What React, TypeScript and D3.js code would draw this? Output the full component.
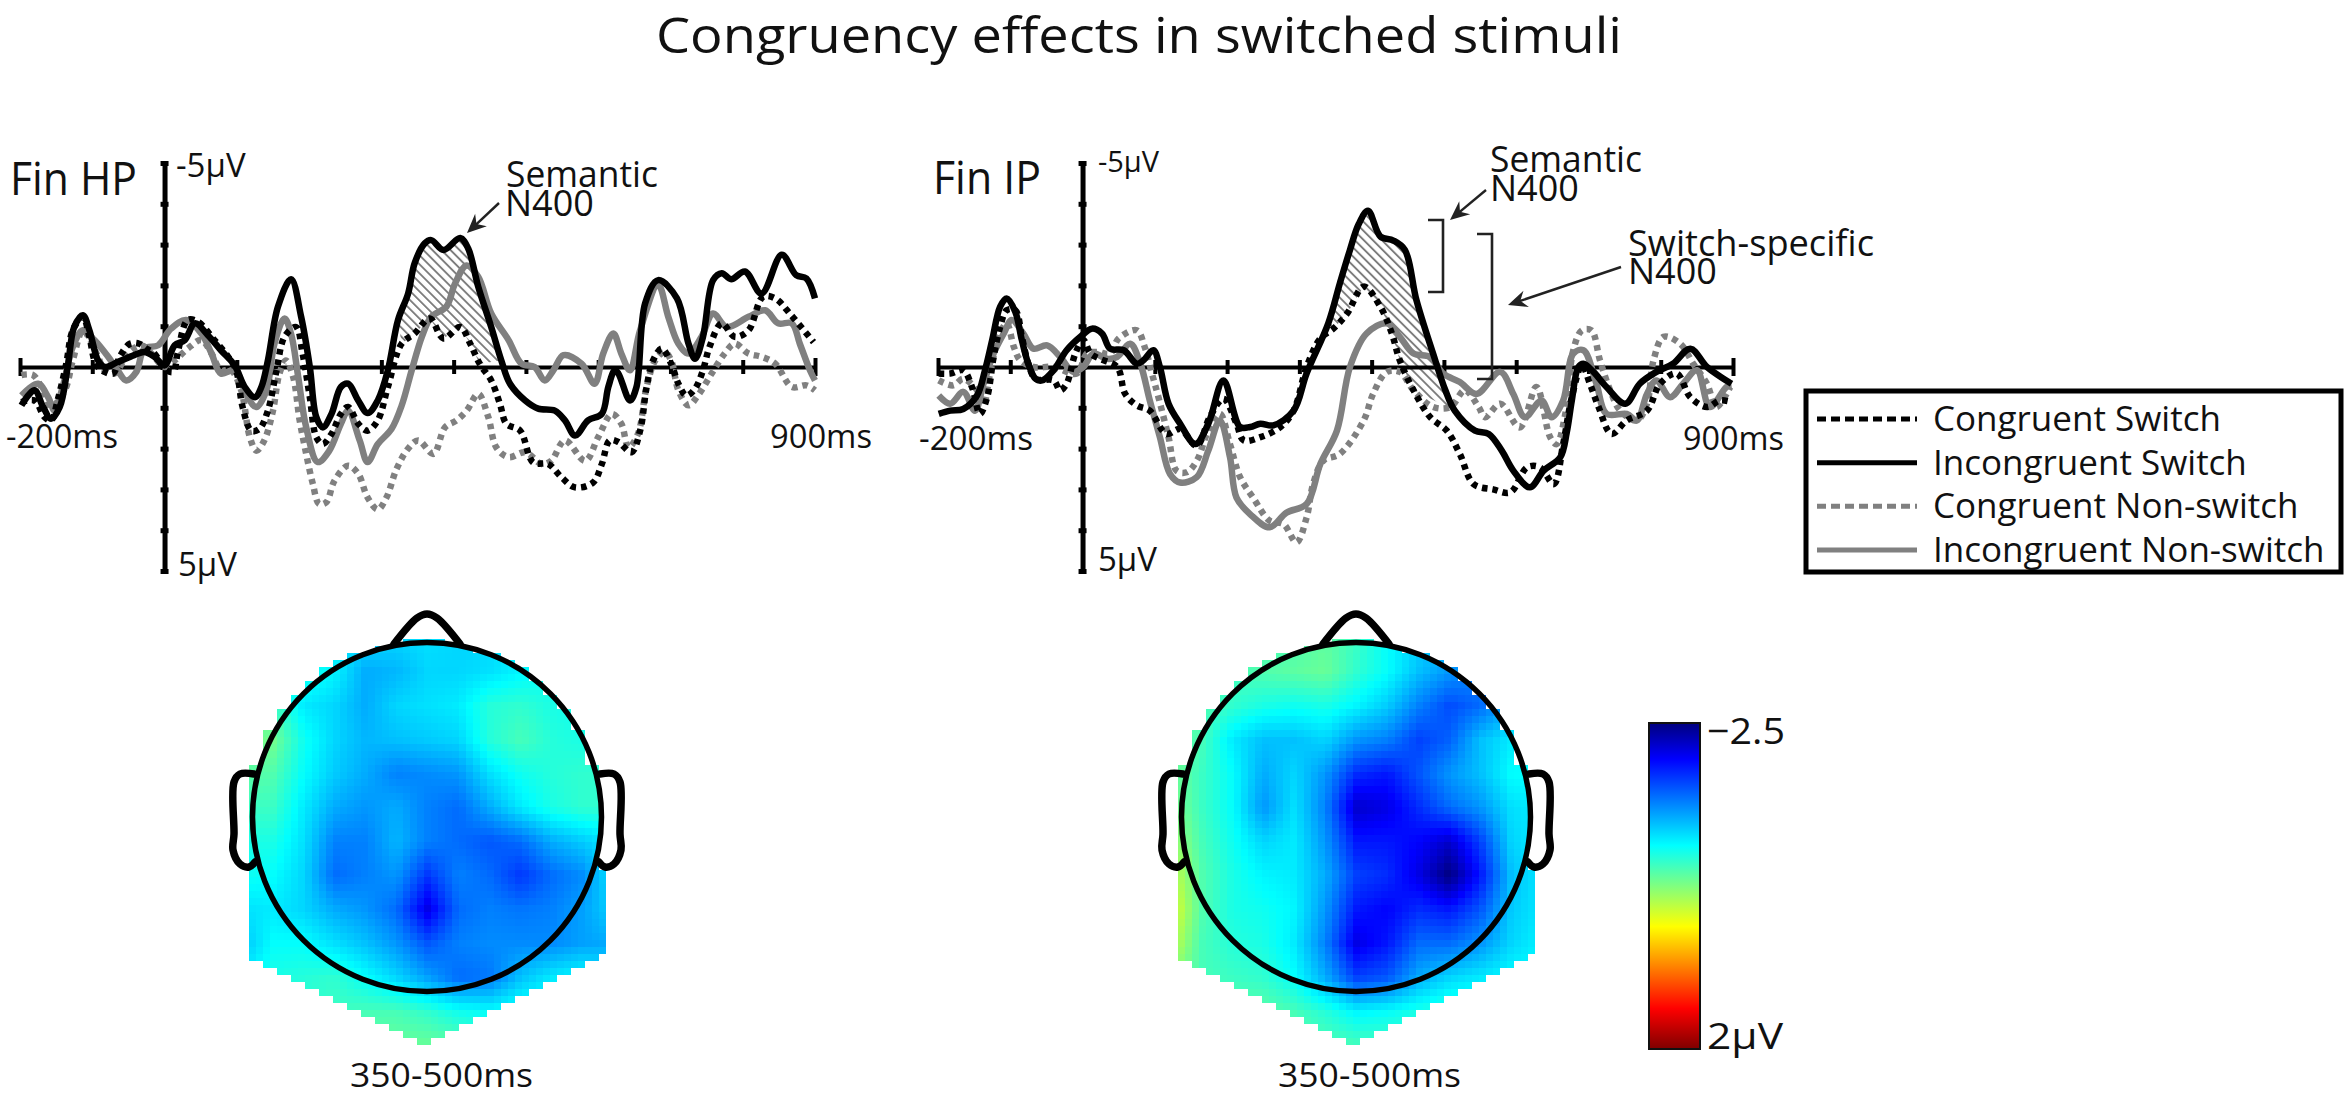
import { useEffect, useRef } from "react"
import * as d3 from "d3"

type Pt = [number, number]

const FONT = "'Open Sans', sans-serif"

// all curves are [ms, µV], negative up
const hpCongruentSwitch: Pt[] = [[-198,0.86],[-180,0.82],[-166,1.23],[-157,1.31],[-148,0.82],[-136,-0.08],[-127,-0.9],[-113,-1.23],[-104,-0.74],[-95,-0.08],[-83,0.12],[-71,0.16],[-62,-0.25],[-48,-0.57],[-35,-0.57],[-25,-0.45],[-14,-0.33],[0,0.04],[12,0.12],[18,-0.33],[32,-1.15],[46,-1.11],[69,-0.66],[88,-0.25],[99,0.08],[108,0.98],[120,1.56],[131,1.52],[143,1.07],[155,0.08],[166,-0.74],[182,-0.98],[191,-0.33],[201,0.74],[210,1.72],[219,1.89],[231,1.64],[244,1.15],[254,0.98],[268,1.39],[281,1.56],[295,1.31],[309,0.49],[328,-0.57],[346,-0.82],[367,-1.19],[386,-0.7],[409,-0.98],[423,-0.57],[436,-0.08],[452,0.33],[464,0.9],[473,1.39],[492,1.56],[510,2.34],[531,2.38],[549,2.7],[568,2.95],[593,2.83],[605,2.38],[616,1.8],[628,1.84],[646,2.09],[658,1.56],[667,0.49],[676,-0.16],[688,-0.45],[701,-0.08],[711,0.41],[722,0.7],[734,0.53],[745,0.08],[754,-0.49],[771,-1.07],[789,-0.74],[808,-0.9],[828,-1.72],[845,-1.68],[867,-1.27],[898,-0.61]]
const hpIncongruentSwitch: Pt[] = [[-198,0.94],[-180,0.57],[-168,0.98],[-157,1.27],[-145,0.98],[-134,0],[-125,-0.98],[-113,-1.27],[-104,-0.9],[-92,-0.16],[-83,0],[-65,-0.12],[-42,-0.29],[-28,-0.37],[-14,-0.25],[0,-0.04],[14,-0.53],[28,-0.66],[42,-1.07],[60,-0.78],[78,-0.41],[97,-0.04],[111,0.49],[125,0.74],[134,0.49],[143,-0.16],[157,-1.48],[175,-2.15],[189,-1.23],[201,0],[210,1.23],[219,1.48],[231,1.15],[244,0.49],[254,0.41],[268,0.82],[281,1.13],[295,0.82],[309,0.08],[323,-1.15],[337,-1.8],[346,-2.54],[360,-3.03],[369,-3.11],[386,-2.87],[409,-3.16],[420,-2.91],[434,-1.97],[452,-0.98],[466,-0.16],[478,0.41],[499,0.82],[517,1.02],[540,1.07],[554,1.31],[568,1.68],[586,1.31],[605,1.15],[614,0.49],[623,0.08],[628,0.16],[644,0.82],[653,0.49],[665,-1.56],[683,-2.13],[709,-1.68],[725,-0.57],[734,-0.2],[745,-0.74],[759,-2.13],[771,-2.3],[784,-2.15],[803,-2.34],[826,-1.8],[854,-2.75],[874,-2.25],[888,-2.17],[900,-1.68]]
const hpCongruentNonSwitch: Pt[] = [[-198,0.2],[-182,0.2],[-166,0.66],[-157,0.98],[-138,0.57],[-127,-0.16],[-113,-0.9],[-104,-0.7],[-92,-0.25],[-83,0.08],[-69,0.16],[-51,-0.33],[-32,-0.53],[-18,-0.33],[0,0],[14,-0.16],[32,-0.45],[51,-0.66],[65,-0.33],[78,0.08],[92,0.08],[106,0.57],[118,1.72],[127,2.05],[138,1.8],[150,1.07],[159,0.16],[168,-0.16],[178,0.25],[187,1.31],[196,2.13],[205,2.85],[214,3.36],[224,3.31],[235,2.79],[254,2.42],[268,2.62],[281,3.2],[295,3.49],[307,3.2],[321,2.5],[337,2.0],[351,1.8],[372,2.13],[388,1.48],[404,1.31],[418,1.07],[434,0.66],[448,1.23],[459,1.97],[476,2.21],[499,2.09],[522,2.38],[535,2.3],[554,1.8],[582,2.3],[600,1.72],[619,1.15],[632,1.39],[642,1.97],[655,1.64],[667,0.49],[679,-0.16],[692,-0.37],[701,-0.16],[711,0.57],[725,0.94],[738,0.7],[757,0.16],[775,-0.33],[789,-0.57],[808,-0.33],[826,-0.25],[845,-0.08],[868,0.49],[888,0.45],[900,0.57]]
const hpIncongruentNonSwitch: Pt[] = [[-198,0.7],[-175,0.41],[-161,0.74],[-152,1.07],[-141,0.49],[-127,-0.49],[-113,-0.9],[-97,-0.66],[-78,-0.25],[-65,0.08],[-53,0.33],[-39,0.12],[-28,-0.45],[-9,-0.53],[9,-0.94],[30,-1.15],[51,-0.82],[65,-0.33],[78,0.16],[97,0.08],[115,0.74],[127,0.98],[141,0.57],[152,-0.57],[166,-1.19],[175,-0.82],[185,0.25],[196,1.48],[212,2.33],[228,2.05],[244,1.39],[254,1.07],[270,1.8],[281,2.33],[295,1.89],[314,1.52],[328,0.95],[342,0.08],[356,-0.74],[369,-1.23],[390,-1.48],[402,-2.05],[418,-2.49],[434,-2.21],[452,-1.31],[476,-0.66],[494,-0.08],[512,0],[526,0.33],[538,0.08],[552,-0.29],[577,-0.08],[595,0.41],[607,-0.33],[621,-0.82],[632,-0.33],[644,0.08],[658,-0.9],[683,-2.01],[697,-1.23],[711,-0.57],[725,-0.33],[743,-0.74],[759,-1.31],[778,-0.98],[808,-1.23],[831,-1.39],[849,-1.07],[868,-1.07],[879,-0.57],[893,0.08],[900,0.33]]

const ipCongruentSwitch: Pt[] = [[-199,0.16],[-183,0.16],[-165,0.08],[-153,0.49],[-142,1.15],[-132,0.74],[-123,-0.25],[-114,-0.98],[-105,-1.39],[-93,-1.39],[-84,-0.74],[-75,-0.08],[-65,0.29],[-40,0.33],[-31,0.57],[-22,0.41],[-10,-0.33],[1,-0.66],[11,-0.33],[24,-0.2],[48,0],[59,0.66],[75,0.94],[93,1.07],[116,1.64],[135,1.52],[158,1.93],[176,1.23],[195,0.78],[213,1.39],[223,1.8],[246,1.72],[273,1.48],[292,1.07],[310,0],[329,-0.7],[347,-0.94],[366,-1.31],[389,-1.97],[412,-1.48],[428,-0.82],[439,-0.16],[458,0.57],[481,1.23],[504,1.56],[522,2.13],[541,2.87],[568,3.0],[592,3.07],[615,2.46],[633,2.46],[652,2.87],[665,1.89],[677,0.74],[691,-0.04],[702,0.41],[714,0.98],[732,1.64],[753,1.31],[781,1.07],[799,0.41],[822,0.16],[841,0.74],[864,0.98],[882,0.82],[898,0.86]]
const ipIncongruentSwitch: Pt[] = [[-199,1.15],[-183,1.07],[-165,1.03],[-146,0.7],[-135,0.08],[-125,-0.66],[-114,-1.48],[-105,-1.68],[-93,-1.35],[-84,-0.66],[-75,-0.08],[-65,0.29],[-56,0.33],[-40,0.08],[-22,-0.41],[-3,-0.74],[13,-0.94],[27,-0.82],[38,-0.45],[57,-0.41],[75,-0.08],[84,-0.16],[98,-0.41],[107,0],[119,0.9],[135,1.39],[156,1.89],[174,1.39],[195,0.33],[218,1.47],[232,1.47],[246,1.39],[264,1.43],[292,1.07],[310,0.16],[340,-1.07],[356,-2.05],[370,-2.87],[382,-3.5],[395,-3.83],[412,-3.2],[430,-3.1],[446,-2.87],[462,-1.64],[485,-0.33],[502,0.57],[515,1.07],[543,1.56],[562,1.64],[580,2.05],[596,2.54],[619,2.95],[638,2.54],[661,2.21],[670,1.6],[677,0.82],[686,0],[693,-0.08],[707,0.12],[725,0.49],[751,0.9],[771,0.41],[794,0.12],[817,-0.08],[841,-0.45],[864,0],[898,0.41]]
const ipCongruentNonSwitch: Pt[] = [[-199,0.33],[-179,0.45],[-165,0.29],[-146,0.57],[-137,0.9],[-128,0.16],[-116,-0.74],[-105,-1.07],[-95,-0.49],[-86,-0.16],[-68,0],[-40,0],[-8,0.16],[6,-0.33],[20,-0.37],[38,-0.33],[50,-0.7],[75,-0.9],[86,-0.49],[96,0.16],[105,0.74],[119,1.72],[130,2.54],[144,2.58],[158,2.3],[174,1.56],[190,1.15],[204,1.89],[218,2.7],[236,3.2],[259,3.77],[278,3.85],[296,4.3],[310,3.69],[319,2.87],[333,2.3],[356,2.13],[389,1.31],[402,0.66],[421,0.12],[439,0.12],[458,0.57],[485,0.98],[509,0.98],[529,0.57],[548,0.98],[557,1.23],[578,0.9],[605,1.48],[628,0.49],[647,1.72],[656,1.89],[668,1.15],[679,-0.41],[691,-0.9],[704,-0.9],[716,-0.16],[730,0.57],[744,1.07],[767,1.31],[781,0.9],[790,-0.16],[804,-0.74],[827,-0.57],[845,-0.08],[864,0.41],[877,0.98],[896,0.49]]
const ipIncongruentNonSwitch: Pt[] = [[-199,0.7],[-183,0.9],[-165,0.61],[-149,1.07],[-137,0.41],[-123,-0.33],[-109,-0.82],[-98,-1.15],[-82,-0.82],[-68,-0.45],[-49,-0.53],[-31,-0.25],[-13,0.12],[1,0],[15,-0.33],[34,-0.2],[48,-0.25],[66,-0.57],[80,-0.08],[93,0.82],[107,1.72],[121,2.62],[135,2.83],[158,2.7],[174,2.05],[190,1.31],[204,2.21],[213,3.2],[232,3.61],[259,3.93],[282,3.57],[310,3.36],[329,2.38],[352,1.56],[370,0],[393,-0.82],[421,-1.07],[439,-0.74],[458,-0.33],[481,-0.25],[499,0.16],[522,0.37],[545,0.66],[578,0.12],[596,0.66],[612,1.23],[635,0.82],[649,1.23],[665,0.82],[679,-0.33],[693,-0.41],[711,0.41],[725,1.15],[753,1.15],[767,1.31],[781,0.66],[794,0.33],[813,0.74],[831,0.41],[850,0.08],[868,0.98],[891,0.49],[898,0.45]]

const legendLabels = ["Congruent Switch", "Incongruent Switch", "Congruent Non-switch", "Incongruent Non-switch"]
const xTicks = [-200, -100, 0, 100, 200, 300, 400, 500, 600, 700, 800, 900]
const yTicks = [-5, -4, -3, -2, -1, 0, 1, 2, 3, 4, 5]

// µV, rows run front to back, columns left to right
const hpScalp = [
  [-0.9,-0.9,-0.9,-0.9,-0.95,-1.0,-0.95,-1.0,-1.0,-0.9,-0.8,-0.8,-0.8],
  [-0.7,-0.7,-0.7,-0.85,-1.2,-1.15,-1.0,-1.0,-0.95,-0.85,-0.75,-0.7,-0.7],
  [-0.5,-0.5,-0.9,-1.0,-1.2,-1.0,-0.95,-0.9,-0.65,-0.6,-0.7,-0.75,-0.75],
  [-0.3,-0.3,-0.75,-1.0,-1.15,-1.1,-1.05,-1.0,-0.65,-0.5,-0.65,-0.7,-0.7],
  [-0.4,-0.45,-0.8,-1.05,-1.2,-1.4,-1.35,-1.3,-0.95,-0.75,-0.65,-0.6,-0.6],
  [-0.55,-0.55,-0.9,-1.2,-1.3,-1.2,-1.4,-1.5,-1.2,-0.9,-0.7,-0.6,-0.6],
  [-0.7,-0.7,-0.95,-1.4,-1.4,-1.15,-1.4,-1.5,-1.6,-1.5,-1.2,-1.05,-0.9],
  [-0.75,-0.8,-1.0,-1.5,-1.4,-1.3,-1.75,-1.4,-1.5,-1.75,-1.5,-1.35,-0.9],
  [-0.95,-0.9,-1.0,-1.2,-1.3,-1.5,-2.1,-1.5,-1.4,-1.45,-1.4,-1.25,-1.0],
  [-1.1,-0.8,-0.8,-0.95,-1.1,-1.3,-1.6,-1.4,-1.35,-1.35,-1.35,-1.25,-1.2],
  [-0.9,-0.7,-0.65,-0.6,-0.8,-1.0,-1.25,-1.5,-1.45,-1.1,-0.9,-0.8,-0.9],
  [-0.7,-0.7,-0.6,-0.55,-0.5,-0.5,-0.6,-0.75,-0.8,-0.7,-0.7,-0.7,-0.7],
  [-0.5,-0.5,-0.5,-0.4,-0.35,-0.35,-0.35,-0.4,-0.5,-0.5,-0.5,-0.5,-0.5],
]
const ipScalp = [
  [-0.5,-0.5,-0.5,-0.5,-0.5,-0.4,-0.55,-0.8,-1.0,-1.1,-1.2,-1.2,-1.2],
  [-0.4,-0.4,-0.5,-0.45,-0.4,-0.35,-0.6,-0.8,-1.1,-1.3,-1.4,-1.3,-1.2],
  [-0.4,-0.45,-0.6,-0.7,-0.75,-0.7,-0.85,-1.05,-1.4,-1.65,-1.5,-1.2,-1.1],
  [-0.3,-0.5,-0.9,-1.1,-1.1,-1.0,-1.3,-1.4,-1.7,-1.55,-1.1,-0.9,-0.9],
  [-0.3,-0.55,-0.8,-1.2,-1.0,-1.3,-1.8,-1.9,-1.6,-1.3,-1.1,-0.8,-0.8],
  [-0.2,-0.55,-0.8,-1.3,-0.95,-1.4,-2.2,-2.1,-1.8,-1.5,-1.3,-0.95,-0.9],
  [-0.05,-0.5,-0.75,-1.0,-0.9,-1.3,-1.9,-1.9,-2.0,-2.2,-1.7,-1.0,-0.9],
  [0.1,-0.45,-0.7,-0.85,-0.9,-1.2,-1.7,-1.8,-2.1,-2.5,-1.9,-1.1,-0.9],
  [0.25,-0.45,-0.7,-0.75,-0.85,-1.3,-1.9,-2.0,-1.8,-1.9,-1.6,-1.05,-0.9],
  [0.1,-0.5,-0.65,-0.7,-0.9,-1.4,-2.1,-1.9,-1.5,-1.5,-1.3,-1.0,-0.85],
  [-0.2,-0.5,-0.55,-0.6,-0.8,-1.2,-1.7,-1.6,-1.2,-1.0,-0.9,-0.8,-0.8],
  [-0.4,-0.4,-0.4,-0.4,-0.5,-0.65,-0.85,-0.8,-0.7,-0.6,-0.6,-0.6,-0.6],
  [-0.4,-0.4,-0.4,-0.4,-0.4,-0.45,-0.5,-0.5,-0.5,-0.5,-0.5,-0.5,-0.5],
]

// jet, flipped: dark blue is -2.5, dark red is 2
const colorDomain = [-2.5, -2.0, -0.81, 0.31, 1.44, 2]
const colorRange = ["#00007f", "#0000ff", "#00ffff", "#ffff00", "#ff0000", "#7f0000"]

const seriesStyles = [
  { color: "#000", dash: "5.5 5" },
  { color: "#000", dash: null },
  { color: "#808080", dash: "5.5 5" },
  { color: "#808080", dash: null },
]

export default function App() {
  const svgRef = useRef<SVGSVGElement>(null)

  useEffect(() => {
    if (!svgRef.current) return
    const svg = d3.select(svgRef.current)
    svg.selectAll("*").remove()

    const defs = svg.append("defs")
    const hatch = defs
      .append("pattern")
      .attr("id", "hatch")
      .attr("patternUnits", "userSpaceOnUse")
      .attr("width", 6.4)
      .attr("height", 6.4)
      .attr("patternTransform", "rotate(-45)")
    hatch.append("rect").attr("width", 1.9).attr("height", 6.4).attr("fill", "#7d7d7d")

    const label = (x: number, y: number, str: string, size: number, width?: number, anchor = "start") => {
      const t = svg
        .append("text")
        .attr("x", x)
        .attr("y", y)
        .attr("font-family", FONT)
        .attr("font-size", size)
        .attr("text-anchor", anchor)
        .attr("fill", "#111")
        .text(str)
      if (width) t.attr("textLength", width).attr("lengthAdjust", "spacingAndGlyphs")
      return t
    }

    const arrow = (x1: number, y1: number, x2: number, y2: number) => {
      const a = Math.atan2(y2 - y1, x2 - x1)
      svg
        .append("line")
        .attr("x1", x1)
        .attr("y1", y1)
        .attr("x2", x2 - 8 * Math.cos(a))
        .attr("y2", y2 - 8 * Math.sin(a))
        .attr("stroke", "#222")
        .attr("stroke-width", 2.4)
      const head: Pt[] = [
        [x2, y2],
        [x2 - 21 * Math.cos(a - 0.42), y2 - 21 * Math.sin(a - 0.42)],
        [x2 - 13 * Math.cos(a), y2 - 13 * Math.sin(a)],
        [x2 - 21 * Math.cos(a + 0.42), y2 - 21 * Math.sin(a + 0.42)],
      ]
      svg.append("polygon").attr("points", head.join(" ")).attr("fill", "#222")
    }

    // ERP panel
    const drawErp = (
      left: number,
      curves: Pt[][],
      hatchPoly: Pt[],
    ) => {
      const x = d3.scaleLinear().domain([-200, 900]).range([left, left + 795])
      const y = d3.scaleLinear().domain([-5, 5]).range([163, 571])
      const g = svg.append("g")

      const line = d3
        .line<Pt>()
        .x((d) => x(d[0]))
        .y((d) => y(d[1]))
      g.append("path").attr("d", line(hatchPoly)).attr("fill", "url(#hatch)")

      const xAxis = g
        .append("g")
        .attr("transform", `translate(0,${y(0)})`)
        .call(d3.axisBottom(x).tickValues(xTicks).tickSizeOuter(0).tickFormat(() => ""))
      xAxis.select(".domain").attr("stroke", "#000").attr("stroke-width", 4)
      xAxis
        .selectAll<SVGLineElement, number>(".tick line")
        .attr("y1", (d) => (d === -200 || d === 900 ? -9 : -7))
        .attr("y2", (d) => (d === -200 || d === 900 ? 9 : 7))
        .attr("stroke", "#000")
        .attr("stroke-width", 4)

      const yAxis = g
        .append("g")
        .attr("transform", `translate(${x(0)},0)`)
        .call(d3.axisLeft(y).tickValues(yTicks).tickSizeOuter(0).tickFormat(() => ""))
      yAxis.select(".domain").attr("stroke", "#000").attr("stroke-width", 5)
      yAxis
        .selectAll(".tick line")
        .attr("x1", -4)
        .attr("x2", 4)
        .attr("stroke", "#000")
        .attr("stroke-width", 5)

      const smooth = d3
        .line<Pt>()
        .x((d) => x(d[0]))
        .y((d) => y(d[1]))
        .curve(d3.curveCatmullRom.alpha(0.5))

      // grey first, black on top
      ;[3, 2, 0, 1].forEach((i) => {
        g.append("path")
          .attr("d", smooth(curves[i]))
          .attr("fill", "none")
          .attr("stroke", seriesStyles[i].color)
          .attr("stroke-width", 6.5)
          .attr("stroke-linejoin", "round")
          .attr("stroke-dasharray", seriesStyles[i].dash)
      })
    }

    const hpHatch: Pt[] = [
      ...hpIncongruentSwitch.filter((d) => d[0] >= 323 && d[0] <= 466),
      ...hpCongruentSwitch.filter((d) => d[0] >= 328 && d[0] <= 436).reverse(),
    ]
    const ipHatch: Pt[] = [
      ...ipIncongruentSwitch.filter((d) => d[0] >= 340 && d[0] <= 515),
      ...ipCongruentSwitch.filter((d) => d[0] >= 347 && d[0] <= 458).reverse(),
    ]
    drawErp(20, [hpCongruentSwitch, hpIncongruentSwitch, hpCongruentNonSwitch, hpIncongruentNonSwitch], hpHatch)
    drawErp(938, [ipCongruentSwitch, ipIncongruentSwitch, ipCongruentNonSwitch, ipIncongruentNonSwitch], ipHatch)

    // scalp maps
    const color = d3.scaleLinear<string>().domain(colorDomain).range(colorRange).clamp(true)

    const drawScalp = (cx: number, cy: number, grid: number[][]) => {
      const cols = d3.scaleLinear().domain([-186, 186]).range([0, 12])
      const rows = d3.scaleLinear().domain([-180, 228]).range([0, 12])
      const sample = (dx: number, dy: number) => {
        const c = Math.max(0, Math.min(11.999, cols(dx)))
        const r = Math.max(0, Math.min(11.999, rows(dy)))
        const c0 = Math.floor(c)
        const r0 = Math.floor(r)
        const top = d3.interpolateNumber(grid[r0][c0], grid[r0][c0 + 1])(c - c0)
        const bot = d3.interpolateNumber(grid[r0 + 1][c0], grid[r0 + 1][c0 + 1])(c - c0)
        return d3.interpolateNumber(top, bot)(r - r0)
      }
      // the outline of the map is stepped 14 wide, 7 high
      const inside = (dx: number, dy: number) => {
        const qx = Math.round(dx / 14) * 14
        if (Math.abs(dx) > 180) return false
        if (dy >= 50) return dy <= 225 - (90 * Math.abs(qx)) / 183
        return Math.hypot(qx, dy) <= 177
      }
      const cw = 7
      const ch = 7
      const g = svg.append("g").attr("transform", `translate(${cx},${cy})`)
      const cells: Pt[] = []
      d3.range(-28, 29).forEach((i) => {
        d3.range(-27, 33).forEach((j) => {
          const p: Pt = [i * cw, j * ch]
          if (inside(p[0], p[1])) cells.push(p)
        })
      })
      g.selectAll("rect")
        .data(cells)
        .enter()
        .append("rect")
        .attr("x", (d) => d[0] - cw / 2)
        .attr("y", (d) => d[1] - ch / 2)
        .attr("width", cw + 0.5)
        .attr("height", ch + 0.5)
        .attr("shape-rendering", "crispEdges")
        .attr("fill", (d) => color(sample(d[0], d[1])))

      const outline = d3.line<Pt>().curve(d3.curveCatmullRom.alpha(0.5))
      const nose: Pt[] = [[-33, -173], [-10, -199], [0, -203], [10, -199], [33, -173]]
      const earL: Pt[] = [[-173, -43], [-187, -43], [-193, -35], [-193, 17], [-194, 33], [-187, 47], [-178, 50], [-172, 45]]
      const earR: Pt[] = earL.map((d) => [-d[0], d[1]] as Pt)
      ;[nose, earL, earR].forEach((p) => {
        g.append("path")
          .attr("d", outline(p))
          .attr("fill", "none")
          .attr("stroke", "#000")
          .attr("stroke-width", 7.5)
          .attr("stroke-linecap", "round")
      })
      g.append("circle").attr("r", 174.5).attr("fill", "none").attr("stroke", "#000").attr("stroke-width", 5.5)
    }
    drawScalp(427, 817, hpScalp)
    drawScalp(1356, 817, ipScalp)

    // colorbar
    const barY = d3.scaleLinear().domain([-2.5, 2]).range([723, 1049])
    const grad = defs
      .append("linearGradient")
      .attr("id", "jet")
      .attr("x1", 0)
      .attr("y1", 0)
      .attr("x2", 0)
      .attr("y2", 1)
    colorDomain.forEach((v, i) => {
      grad
        .append("stop")
        .attr("offset", (barY(v) - 723) / 326)
        .attr("stop-color", colorRange[i])
    })
    svg
      .append("rect")
      .attr("x", 1649)
      .attr("y", barY(-2.5))
      .attr("width", 51)
      .attr("height", barY(2) - barY(-2.5))
      .attr("fill", "url(#jet)")
      .attr("stroke", "#111")
      .attr("stroke-width", 2)

    // legend box
    svg
      .append("rect")
      .attr("x", 1806)
      .attr("y", 391)
      .attr("width", 535)
      .attr("height", 181)
      .attr("fill", "#fff")
      .attr("stroke", "#000")
      .attr("stroke-width", 5)
    const rowY = d3.scaleLinear().domain([0, 3]).range([419, 550])
    legendLabels.forEach((name, i) => {
      svg
        .append("line")
        .attr("x1", 1817)
        .attr("x2", 1917)
        .attr("y1", rowY(i))
        .attr("y2", rowY(i))
        .attr("stroke", seriesStyles[i].color)
        .attr("stroke-width", 5)
        .attr("stroke-dasharray", seriesStyles[i].dash ? "9 5" : null)
      label(1933, rowY(i) + 12, name, 35)
    })

    // text
    label(1139, 53, "Congruency effects in switched stimuli", 49, 966, "middle")
    label(10, 195, "Fin HP", 45, 127)
    label(176, 177, "-5µV", 33)
    label(178, 576, "5µV", 33)
    label(6, 448, "-200ms", 33, 112)
    label(770, 448, "900ms", 33, 102)
    label(506, 187, "Semantic", 36, 152)
    label(505, 216, "N400", 36)
    label(933, 194, "Fin IP", 45, 108)
    label(1098, 172, "-5µV", 30, 61)
    label(1098, 571, "5µV", 33)
    label(919, 450, "-200ms", 33, 114)
    label(1683, 450, "900ms", 33, 101)
    label(1490, 172, "Semantic", 36, 152)
    label(1490, 201, "N400", 36)
    label(1628, 256, "Switch-specific", 36, 246)
    label(1628, 284, "N400", 36)
    label(350, 1087, "350-500ms", 33, 183)
    label(1278, 1087, "350-500ms", 33, 183)
    label(1707, 744, "−2.5", 37, 78)
    label(1707, 1049, "2µV", 37, 76)

    arrow(499, 203, 467, 233)
    arrow(1486, 190, 1450, 220)
    arrow(1621, 267, 1508, 305)

    // brackets next to the right panel
    const brackets: Pt[][] = [
      [[1428, 220], [1443, 220], [1443, 292], [1428, 292]],
      [[1477, 234], [1492, 234], [1492, 379], [1477, 379]],
    ]
    brackets.forEach((b) => {
      svg
        .append("path")
        .attr("d", d3.line()(b))
        .attr("fill", "none")
        .attr("stroke", "#222")
        .attr("stroke-width", 2.6)
    })
  }, [])

  return (
    <svg
      ref={svgRef}
      width={2349}
      height={1097}
      style={{ position: "absolute", left: 0, top: 0, background: "#fff", display: "block" }}
    />
  )
}
